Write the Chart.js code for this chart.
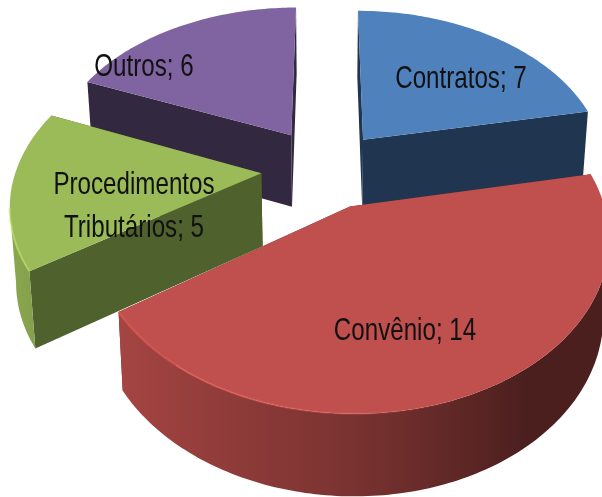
<!DOCTYPE html>
<html><head><meta charset="utf-8">
<style>html,body{margin:0;padding:0;background:#fff}canvas{display:block}</style>
<script src="https://cdn.jsdelivr.net/npm/chart.js@4/dist/chart.umd.min.js"></script>
</head><body><canvas id="c" width="602" height="497"></canvas>
<script>
const categories = ['Contratos', 'Convênio', 'Procedimentos Tributários', 'Outros'];
const values = [7, 14, 5, 6];
const topColors = ['#4F81BD', '#C0504D', '#9BBB59', '#8064A2'];
const wallColors = ['#1F3550', '#6E2B29', '#4F612C', '#32283F'];
const sliceOffsets = [54, 54, 58, 58];
const labelCenters = [[461, 79], [405, 331], [134, 207], [144, 67]];

// 3D view used to project the pie's plane on to the page
const view = {cx: 326, cy: 169, sx: 245, sy: 159, persp: 0.165, depth: 73, depthPower: 0.55, bottomScale: 0.98};
const fontPx = 32, lineGap = 43, textStretch = 0.755;

function project(u, v, lower) {
  const w = 1 + view.persp * v;
  let x = view.cx + view.sx * u / w;
  let y = view.cy - view.sy * v / w;
  if (lower) { x = view.cx + (x - view.cx) * view.bottomScale; y += view.depth / Math.pow(w, view.depthPower); }
  return [x, y];
}
function shadeFor(s) { return s < 0 ? 0.63 - 0.28 * s : Math.max(0.385, 0.63 - 0.41 * s); }
function rgb(hex, k, alpha) {
  const n = parseInt(hex.slice(1), 16);
  const c = v => Math.min(255, Math.round(v * k));
  return `rgba(${c(n >> 16)},${c((n >> 8) & 255)},${c(n & 255)},${alpha === undefined ? 1 : alpha})`;
}
const pie3d = {
  id: 'pie3d',
  beforeDatasetDraw(chart, args) {
    const ctx = chart.ctx;
    const arcs = args.meta.data.map((arc, i) => {
      const a0 = arc.startAngle + Math.PI / 2, a1 = arc.endAngle + Math.PI / 2, m = (a0 + a1) / 2;
      const e = arc.options.offset / arc.outerRadius;
      return {i, a0, a1, ou: e * Math.sin(m), ov: e * Math.cos(m)};
    }).sort((p, q) => q.ov - p.ov);
    for (const s of arcs) {
      const pt = (a, lower) => project(s.ou + Math.sin(a), s.ov + Math.cos(a), lower);
      const apex = project(s.ou, s.ov, false), apexB = project(s.ou, s.ov, true);
      const n = Math.ceil((s.a1 - s.a0) / (Math.PI / 180));
      const ang = k => s.a0 + (s.a1 - s.a0) * k / n;
      ctx.save();
      // radial walls
      ctx.fillStyle = wallColors[s.i];
      for (const a of [s.a1, s.a0]) {
        const t = pt(a, false), b = pt(a, true);
        ctx.beginPath(); ctx.moveTo(...apex); ctx.lineTo(...t); ctx.lineTo(...b); ctx.lineTo(...apexB); ctx.closePath(); ctx.fill();
      }
      // rounded outer wall, front-facing part only, shaded across the page
      const facing = [];
      for (let k = 0; k <= n; k++) {
        const isFront = (k < n && pt(ang(k + 1))[0] < pt(ang(k))[0]) || (k > 0 && pt(ang(k))[0] < pt(ang(k - 1))[0]);
        if (isFront) facing.push(ang(k));
      }
      if (facing.length > 1) {
        const xs = facing.map(a => pt(a)[0]);
        const x0 = Math.min(...xs), x1 = Math.max(...xs);
        const grad = ctx.createLinearGradient(x0, 0, x1, 0);
        facing.forEach(a => grad.addColorStop((pt(a)[0] - x0) / (x1 - x0), rgb(topColors[s.i], shadeFor(Math.sin(a)))));
        ctx.fillStyle = grad;
        ctx.beginPath();
        facing.forEach((a, k) => k ? ctx.lineTo(...pt(a)) : ctx.moveTo(...pt(a)));
        facing.slice().reverse().forEach(a => ctx.lineTo(...pt(a, true)));
        ctx.closePath(); ctx.fill();
      }
      // top face
      ctx.fillStyle = topColors[s.i];
      ctx.beginPath(); ctx.moveTo(...apex);
      for (let k = 0; k <= n; k++) ctx.lineTo(...pt(ang(k)));
      ctx.closePath(); ctx.fill();
      // soft rim highlight along the front edge
      ctx.lineWidth = 2.2; ctx.lineCap = 'butt';
      for (let k = 0; k + 1 < facing.length; k++) {
        const alpha = Math.max(0, 0.28 - 0.6 * Math.sin(facing[k]));
        ctx.strokeStyle = rgb(topColors[s.i], 1.25, Math.min(alpha, 0.5));
        ctx.beginPath(); ctx.moveTo(...pt(facing[k])); ctx.lineTo(...pt(facing[k + 1])); ctx.stroke();
      }
      ctx.restore();
    }
    return false;
  },
  afterDraw(chart) {
    const ctx = chart.ctx;
    ctx.save();
    ctx.fillStyle = '#111';
    ctx.textAlign = 'center'; ctx.textBaseline = 'middle';
    ctx.font = `${fontPx}px "Liberation Sans Narrow","Liberation Sans",sans-serif`;
    categories.forEach((name, i) => {
      const text = name + '; ' + values[i];
      const lines = text.length > 20 ? [text.slice(0, text.indexOf(' ')), text.slice(text.indexOf(' ') + 1)] : [text];
      const [x, y] = labelCenters[i];
      lines.forEach((ln, j) => {
        ctx.save();
        ctx.translate(x, y + (j - (lines.length - 1) / 2) * lineGap);
        ctx.scale(textStretch, 1);
        ctx.fillText(ln, 0, 0);
        ctx.restore();
      });
    });
    ctx.restore();
  }
};
new Chart(document.getElementById('c'), {
  type: 'pie',
  data: {labels: categories, datasets: [{data: values, backgroundColor: topColors, borderWidth: 0, offset: sliceOffsets, hoverOffset: 0}]},
  options: {
    responsive: false, animation: false,
    layout: {padding: 0},
    events: [],
    plugins: {legend: {display: false}, tooltip: {enabled: false}}
  },
  plugins: [pie3d]
});
</script></body></html>
